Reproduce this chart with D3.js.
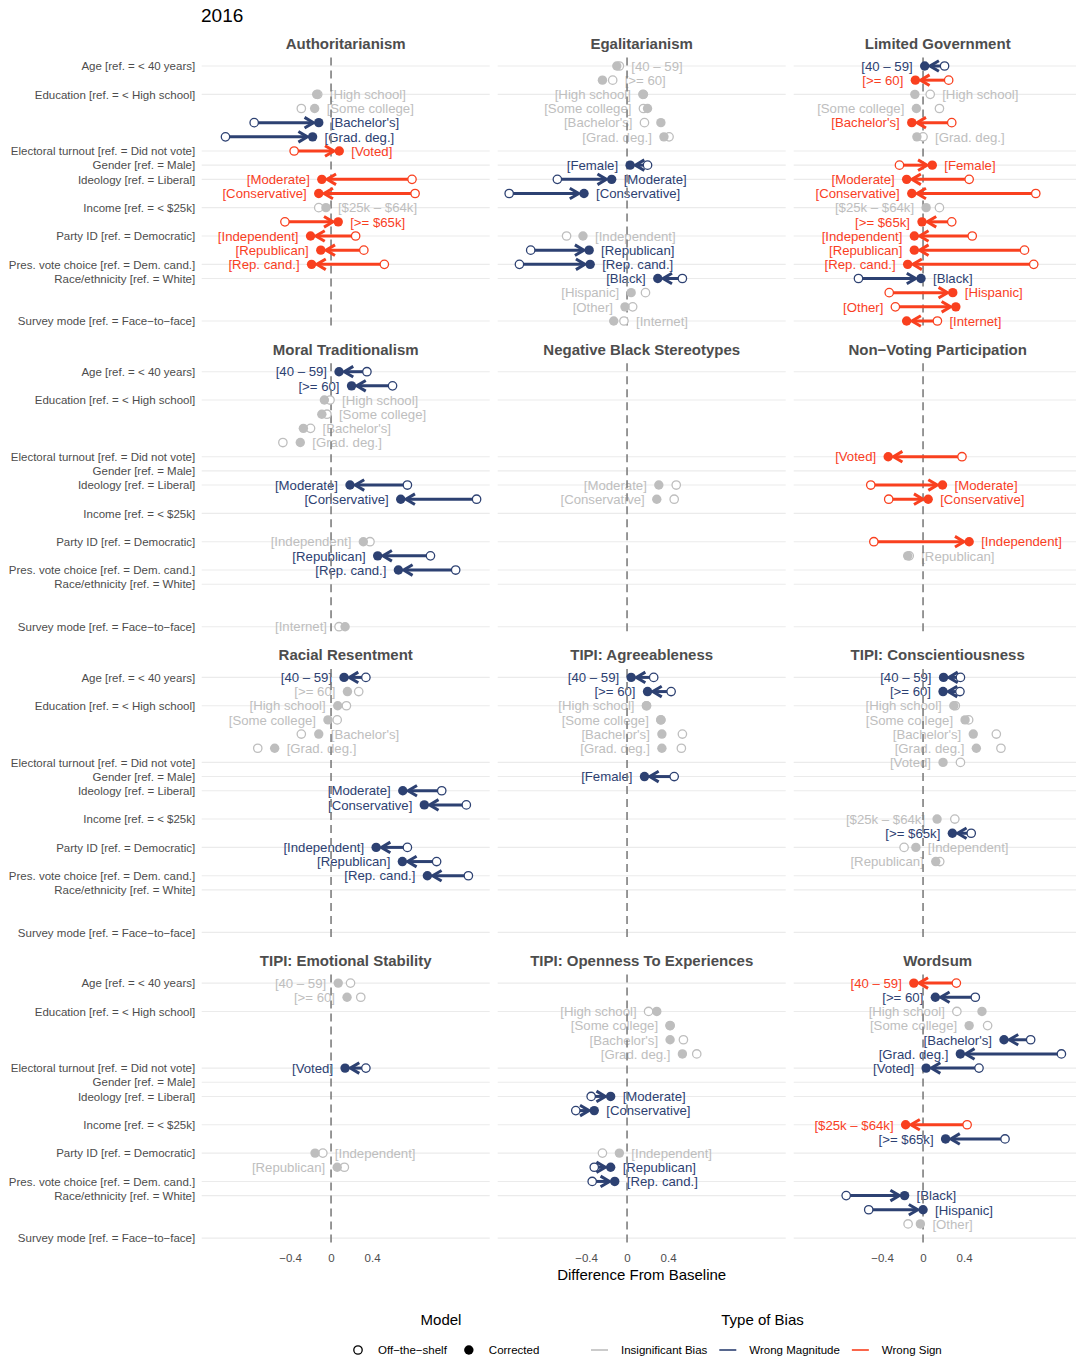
<!DOCTYPE html>
<html>
<head>
<meta charset="utf-8">
<script src="https://cdn.jsdelivr.net/npm/d3@7"></script>
<style>
  body { margin: 0; background: #fff; }
  svg text { font-family: "Liberation Sans", Arial, Helvetica, sans-serif; }
</style>
</head>
<body>
<div id="chart"></div>
<script>

// levels, top to bottom
var levels = ["[40 – 59]", "[>= 60]", "[High school]", "[Some college]", "[Bachelor's]", "[Grad. deg.]",
  "[Voted]", "[Female]", "[Moderate]", "[Conservative]", "[$25k – $64k]", "[>= $65k]",
  "[Independent]", "[Republican]", "[Rep. cand.]", "[Black]", "[Hispanic]", "[Other]", "[Internet]"];

// y axis ticks sit on the first level of each variable
var tickLevels = ["[40 – 59]", "[High school]", "[Voted]", "[Female]", "[Moderate]", "[$25k – $64k]",
  "[Independent]", "[Rep. cand.]", "[Black]", "[Internet]"];
var tickLabels = ["Age [ref. = < 40 years]", "Education [ref. = < High school]", "Electoral turnout [ref. = Did not vote]",
  "Gender [ref. = Male]", "Ideology [ref. = Liberal]", "Income [ref. = < $25k]", "Party ID [ref. = Democratic]",
  "Pres. vote choice [ref. = Dem. cand.]", "Race/ethnicity [ref. = White]", "Survey mode [ref. = Face−to−face]"];

var xTicks = [-0.4, 0, 0.4];

var panelTitles = ["Authoritarianism", "Egalitarianism", "Limited Government",
  "Moral Traditionalism", "Negative Black Stereotypes", "Non−Voting Participation",
  "Racial Resentment", "TIPI: Agreeableness", "TIPI: Conscientiousness",
  "TIPI: Emotional Stability", "TIPI: Openness To Experiences", "Wordsum"];

// [level, off-the-shelf, corrected, bias type]
var authoritarianism = [
  ["[High school]", -0.13, -0.14, "ins"],
  ["[Some college]", -0.29, -0.16, "ins"],
  ["[Bachelor's]", -0.75, -0.12, "mag"],
  ["[Grad. deg.]", -1.03, -0.18, "mag"],
  ["[Voted]", -0.36, 0.08, "sign"],
  ["[Moderate]", 0.79, -0.09, "sign"],
  ["[Conservative]", 0.82, -0.12, "sign"],
  ["[$25k – $64k]", -0.12, -0.05, "ins"],
  ["[>= $65k]", -0.45, 0.07, "sign"],
  ["[Independent]", 0.24, -0.20, "sign"],
  ["[Republican]", 0.32, -0.10, "sign"],
  ["[Rep. cand.]", 0.52, -0.19, "sign"]
];
var egalitarianism = [
  ["[40 – 59]", -0.075, -0.10, "ins"],
  ["[>= 60]", -0.14, -0.24, "ins"],
  ["[High school]", 0.155, 0.16, "ins"],
  ["[Some college]", 0.16, 0.20, "ins"],
  ["[Bachelor's]", 0.17, 0.33, "ins"],
  ["[Grad. deg.]", 0.41, 0.36, "ins"],
  ["[Female]", 0.20, 0.03, "mag"],
  ["[Moderate]", -0.68, -0.15, "mag"],
  ["[Conservative]", -1.15, -0.42, "mag"],
  ["[Independent]", -0.59, -0.43, "ins"],
  ["[Republican]", -0.94, -0.37, "mag"],
  ["[Rep. cand.]", -1.05, -0.36, "mag"],
  ["[Black]", 0.54, 0.30, "mag"],
  ["[Hispanic]", 0.18, 0.04, "ins"],
  ["[Other]", 0.055, -0.02, "ins"],
  ["[Internet]", -0.03, -0.13, "ins"]
];
var limitedGov = [
  ["[40 – 59]", 0.21, 0.016, "mag"],
  ["[>= 60]", 0.25, -0.075, "sign"],
  ["[High school]", 0.07, -0.08, "ins"],
  ["[Some college]", 0.16, -0.065, "ins"],
  ["[Bachelor's]", 0.28, -0.11, "sign"],
  ["[Grad. deg.]", 0.0, -0.06, "ins"],
  ["[Female]", -0.23, 0.09, "sign"],
  ["[Moderate]", 0.45, -0.16, "sign"],
  ["[Conservative]", 1.10, -0.11, "sign"],
  ["[$25k – $64k]", 0.16, 0.03, "ins"],
  ["[>= $65k]", 0.28, -0.01, "sign"],
  ["[Independent]", 0.48, -0.085, "sign"],
  ["[Republican]", 0.99, -0.085, "sign"],
  ["[Rep. cand.]", 1.08, -0.15, "sign"],
  ["[Black]", -0.63, -0.02, "mag"],
  ["[Hispanic]", -0.33, 0.29, "sign"],
  ["[Other]", -0.27, 0.32, "sign"],
  ["[Internet]", 0.14, -0.16, "sign"]
];
var moralTrad = [
  ["[40 – 59]", 0.35, 0.078, "mag"],
  ["[>= 60]", 0.60, 0.20, "mag"],
  ["[High school]", -0.01, -0.065, "ins"],
  ["[Some college]", -0.04, -0.09, "ins"],
  ["[Bachelor's]", -0.20, -0.27, "ins"],
  ["[Grad. deg.]", -0.47, -0.30, "ins"],
  ["[Moderate]", 0.745, 0.185, "mag"],
  ["[Conservative]", 1.42, 0.68, "mag"],
  ["[Independent]", 0.38, 0.315, "ins"],
  ["[Republican]", 0.97, 0.455, "mag"],
  ["[Rep. cand.]", 1.216, 0.657, "mag"],
  ["[Internet]", 0.078, 0.137, "ins"]
];
var negBlackStereo = [
  ["[Moderate]", 0.48, 0.31, "ins"],
  ["[Conservative]", 0.46, 0.29, "ins"]
];
var nonVoting = [
  ["[Voted]", 0.38, -0.34, "sign"],
  ["[Moderate]", -0.51, 0.19, "sign"],
  ["[Conservative]", -0.335, 0.05, "sign"],
  ["[Independent]", -0.48, 0.45, "sign"],
  ["[Republican]", -0.135, -0.15, "ins"]
];
var racialRes = [
  ["[40 – 59]", 0.34, 0.127, "mag"],
  ["[>= 60]", 0.27, 0.16, "ins"],
  ["[High school]", 0.15, 0.065, "ins"],
  ["[Some college]", 0.06, -0.03, "ins"],
  ["[Bachelor's]", -0.29, -0.12, "ins"],
  ["[Grad. deg.]", -0.715, -0.55, "ins"],
  ["[Moderate]", 1.08, 0.70, "mag"],
  ["[Conservative]", 1.32, 0.91, "mag"],
  ["[Independent]", 0.745, 0.44, "mag"],
  ["[Republican]", 1.03, 0.696, "mag"],
  ["[Rep. cand.]", 1.34, 0.94, "mag"]
];
var tipiAgree = [
  ["[40 – 59]", 0.26, 0.04, "mag"],
  ["[>= 60]", 0.43, 0.20, "mag"],
  ["[High school]", 0.19, 0.19, "ins"],
  ["[Some college]", 0.33, 0.33, "ins"],
  ["[Bachelor's]", 0.54, 0.34, "ins"],
  ["[Grad. deg.]", 0.53, 0.34, "ins"],
  ["[Female]", 0.46, 0.17, "mag"]
];
var tipiConsc = [
  ["[40 – 59]", 0.365, 0.20, "mag"],
  ["[>= 60]", 0.36, 0.195, "mag"],
  ["[High school]", 0.315, 0.30, "ins"],
  ["[Some college]", 0.445, 0.41, "ins"],
  ["[Bachelor's]", 0.715, 0.49, "ins"],
  ["[Grad. deg.]", 0.76, 0.52, "ins"],
  ["[Voted]", 0.365, 0.195, "ins"],
  ["[$25k – $64k]", 0.31, 0.137, "ins"],
  ["[>= $65k]", 0.47, 0.286, "mag"],
  ["[Independent]", -0.185, -0.07, "ins"],
  ["[Republican]", 0.163, 0.124, "ins"]
];
var tipiEmo = [
  ["[40 – 59]", 0.19, 0.07, "ins"],
  ["[>= 60]", 0.29, 0.156, "ins"],
  ["[Voted]", 0.34, 0.137, "mag"],
  ["[Independent]", -0.08, -0.156, "ins"],
  ["[Republican]", 0.13, 0.06, "ins"]
];
var tipiOpen = [
  ["[High school]", 0.21, 0.29, "ins"],
  ["[Some college]", 0.42, 0.42, "ins"],
  ["[Bachelor's]", 0.55, 0.42, "ins"],
  ["[Grad. deg.]", 0.68, 0.54, "ins"],
  ["[Moderate]", -0.35, -0.16, "mag"],
  ["[Conservative]", -0.50, -0.32, "mag"],
  ["[Independent]", -0.24, -0.075, "ins"],
  ["[Republican]", -0.32, -0.16, "mag"],
  ["[Rep. cand.]", -0.34, -0.12, "mag"]
];
var wordsum = [
  ["[40 – 59]", 0.325, -0.09, "sign"],
  ["[>= 60]", 0.51, 0.12, "mag"],
  ["[High school]", 0.33, 0.575, "ins"],
  ["[Some college]", 0.63, 0.45, "ins"],
  ["[Bachelor's]", 1.05, 0.79, "mag"],
  ["[Grad. deg.]", 1.35, 0.364, "mag"],
  ["[Voted]", 0.546, 0.03, "mag"],
  ["[$25k – $64k]", 0.43, -0.17, "sign"],
  ["[>= $65k]", 0.80, 0.22, "mag"],
  ["[Black]", -0.75, -0.18, "mag"],
  ["[Hispanic]", -0.53, 0.0, "mag"],
  ["[Other]", -0.146, -0.026, "ins"]
];

var panelRows = [authoritarianism, egalitarianism, limitedGov, moralTrad, negBlackStereo, nonVoting,
  racialRes, tipiAgree, tipiConsc, tipiEmo, tipiOpen, wordsum];

var modelKeys = ["Off−the−shelf", "Corrected"];
var biasKeys = ["Insignificant Bias", "Wrong Magnitude", "Wrong Sign"];
var biasTypes = ["ins", "mag", "sign"];

var width = 1076;
var height = 1358;
var plotLeft = 201.7;
var panelW = 288;
var gapX = 8;
var firstTop = 57.5;
var rowStep = 305.7;
var panelH = 272;
var xDomain = [-1.262, 1.548];

var color = d3.scaleOrdinal().domain(biasTypes).range(["#bebebe", "#2d4172", "#f9401f"]);

var rFill = 4.7;
var rOpen = 4.2;
var labelGap = 12;

var svg = d3.select("#chart").append("svg")
  .attr("width", width)
  .attr("height", height);

svg.append("rect").attr("width", width).attr("height", height).attr("fill", "#fff");

/* Title */
svg.append("text")
  .attr("x", 201)
  .attr("y", 22)
  .style("font-size", "19px")
  .attr("fill", "#000")
  .text("2016");

panelRows.forEach(function(rows, i) {
  var col = i % 3;
  var row = Math.floor(i / 3);
  var left = plotLeft + col * (panelW + gapX);
  var top = firstTop + row * rowStep;

  var x = d3.scaleLinear().domain(xDomain).range([left, left + panelW]);
  var y = d3.scalePoint().domain(levels).range([top, top + panelH]).padding(0.6);

  var g = svg.append("g").attr("class", "panel");

  /* grid */
  g.selectAll(".grid")
    .data(tickLevels).enter()
    .append("line")
    .attr("x1", left)
    .attr("x2", left + panelW)
    .attr("y1", d => y(d))
    .attr("y2", d => y(d))
    .attr("stroke", "#ebebeb")
    .attr("stroke-width", 1.1);

  /* strip */
  g.append("text")
    .attr("x", left + panelW / 2)
    .attr("y", top - 8.5)
    .attr("text-anchor", "middle")
    .style("font-size", "15px")
    .style("font-weight", "bold")
    .attr("fill", "#4d4d4d")
    .text(panelTitles[i]);

  /* y axis on first column */
  if (col == 0) {
    var yAxis = d3.axisLeft(y)
      .tickValues(tickLevels)
      .tickFormat((d, k) => tickLabels[k])
      .tickSize(0)
      .tickPadding(6.5);
    var ya = g.append("g")
      .attr("transform", `translate(${left},0)`)
      .call(yAxis);
    ya.select(".domain").remove();
    ya.selectAll("text")
      .style("font-size", "11.5px")
      .style("font-family", "Liberation Sans, Arial, sans-serif")
      .attr("fill", "#4d4d4d");
  }

  /* x axis on bottom row */
  if (row == 3) {
    var xAxis = d3.axisBottom(x)
      .tickValues(xTicks)
      .tickFormat(d => d === 0 ? "0" : d3.format(".1f")(d))
      .tickSize(0)
      .tickPadding(7.5);
    var xa = g.append("g")
      .attr("transform", `translate(0,${top + panelH})`)
      .call(xAxis);
    xa.select(".domain").remove();
    xa.selectAll("text")
      .style("font-size", "11.5px")
      .style("font-family", "Liberation Sans, Arial, sans-serif")
      .attr("fill", "#4d4d4d");
  }

  /* labels, on the side away from the pair's mean */
  g.selectAll(".lab")
    .data(rows).enter()
    .append("text")
    .attr("class", "lab")
    .attr("x", function(d) {
      var lo = Math.min(x(d[1]), x(d[2]));
      var hi = Math.max(x(d[1]), x(d[2]));
      return (d[1] + d[2]) / 2 < 0 ? hi + labelGap : lo - labelGap;
    })
    .attr("y", d => y(d[0]))
    .attr("dy", "0.36em")
    .attr("text-anchor", d => (d[1] + d[2]) / 2 < 0 ? "start" : "end")
    .style("font-size", "13.2px")
    .attr("fill", d => color(d[3]))
    .text(d => d[0]);

  /* baseline */
  g.append("line")
    .attr("x1", x(0))
    .attr("x2", x(0))
    .attr("y1", top)
    .attr("y2", top + panelH)
    .attr("stroke", "#7f7f7f")
    .attr("stroke-width", 1.6)
    .attr("stroke-dasharray", "8,5");

  /* arrows */
  var arrowRows = rows.filter(d => d[3] != "ins");
  var arr = g.selectAll(".arrow")
    .data(arrowRows).enter()
    .append("g")
    .attr("class", "arrow")
    .attr("stroke", d => color(d[3]))
    .attr("fill", "none")
    .attr("stroke-width", 3);

  arr.append("line")
    .attr("x1", d => x(d[1]))
    .attr("y1", d => y(d[0]))
    .attr("x2", function(d) {
      var dir = x(d[2]) > x(d[1]) ? 1 : -1;
      return x(d[2]) - dir * (rFill + 1.8);
    })
    .attr("y2", d => y(d[0]));

  arr.append("path")
    .attr("stroke-linejoin", "miter")
    .attr("d", function(d) {
      var dir = x(d[2]) > x(d[1]) ? 1 : -1;
      var tip = x(d[2]) - dir * (rFill + 0.5);
      var yy = y(d[0]);
      return "M" + (tip - dir * 9) + "," + (yy - 5.3) + "L" + tip + "," + yy + "L" + (tip - dir * 9) + "," + (yy + 5.3);
    });

  /* off-the-shelf points */
  g.selectAll(".off")
    .data(rows).enter()
    .append("circle")
    .attr("cx", d => x(d[1]))
    .attr("cy", d => y(d[0]))
    .attr("r", rOpen)
    .attr("fill", "#fff")
    .attr("stroke", d => color(d[3]))
    .attr("stroke-width", 1.3);

  /* corrected points */
  g.selectAll(".cor")
    .data(rows).enter()
    .append("circle")
    .attr("cx", d => x(d[2]))
    .attr("cy", d => y(d[0]))
    .attr("r", rFill)
    .attr("fill", d => color(d[3]));
});

/* x axis title */
svg.append("text")
  .attr("x", plotLeft + (3 * panelW + 2 * gapX) / 2)
  .attr("y", 1280)
  .attr("text-anchor", "middle")
  .style("font-size", "15px")
  .attr("fill", "#000")
  .text("Difference From Baseline");

/* Legend */
var legend = svg.append("g").attr("class", "legend");
var keyY = 1350;

legend.append("text")
  .attr("x", 441)
  .attr("y", 1324.5)
  .attr("text-anchor", "middle")
  .style("font-size", "15px")
  .text("Model");

legend.append("text")
  .attr("x", 762.5)
  .attr("y", 1324.5)
  .attr("text-anchor", "middle")
  .style("font-size", "15px")
  .text("Type of Bias");

var cx = 358;
modelKeys.forEach(function(k, i) {
  legend.append("circle")
    .attr("cx", cx)
    .attr("cy", keyY)
    .attr("r", i == 0 ? rOpen : rFill)
    .attr("fill", i == 0 ? "#fff" : "#000")
    .attr("stroke", "#000")
    .attr("stroke-width", i == 0 ? 1.3 : 0);
  var t = legend.append("text")
    .attr("x", cx + 20)
    .attr("y", keyY + 4)
    .style("font-size", "11.5px")
    .text(k);
  cx = cx + 20 + t.node().getComputedTextLength() + 22;
});

var lx = 591;
biasKeys.forEach(function(k, i) {
  legend.append("line")
    .attr("x1", lx)
    .attr("x2", lx + 17)
    .attr("y1", keyY)
    .attr("y2", keyY)
    .attr("stroke", color(biasTypes[i]))
    .attr("stroke-width", 1.6);
  var t = legend.append("text")
    .attr("x", lx + 30)
    .attr("y", keyY + 4)
    .style("font-size", "11.5px")
    .text(k);
  lx = lx + 30 + t.node().getComputedTextLength() + 12;
});

</script>
</body>
</html>
